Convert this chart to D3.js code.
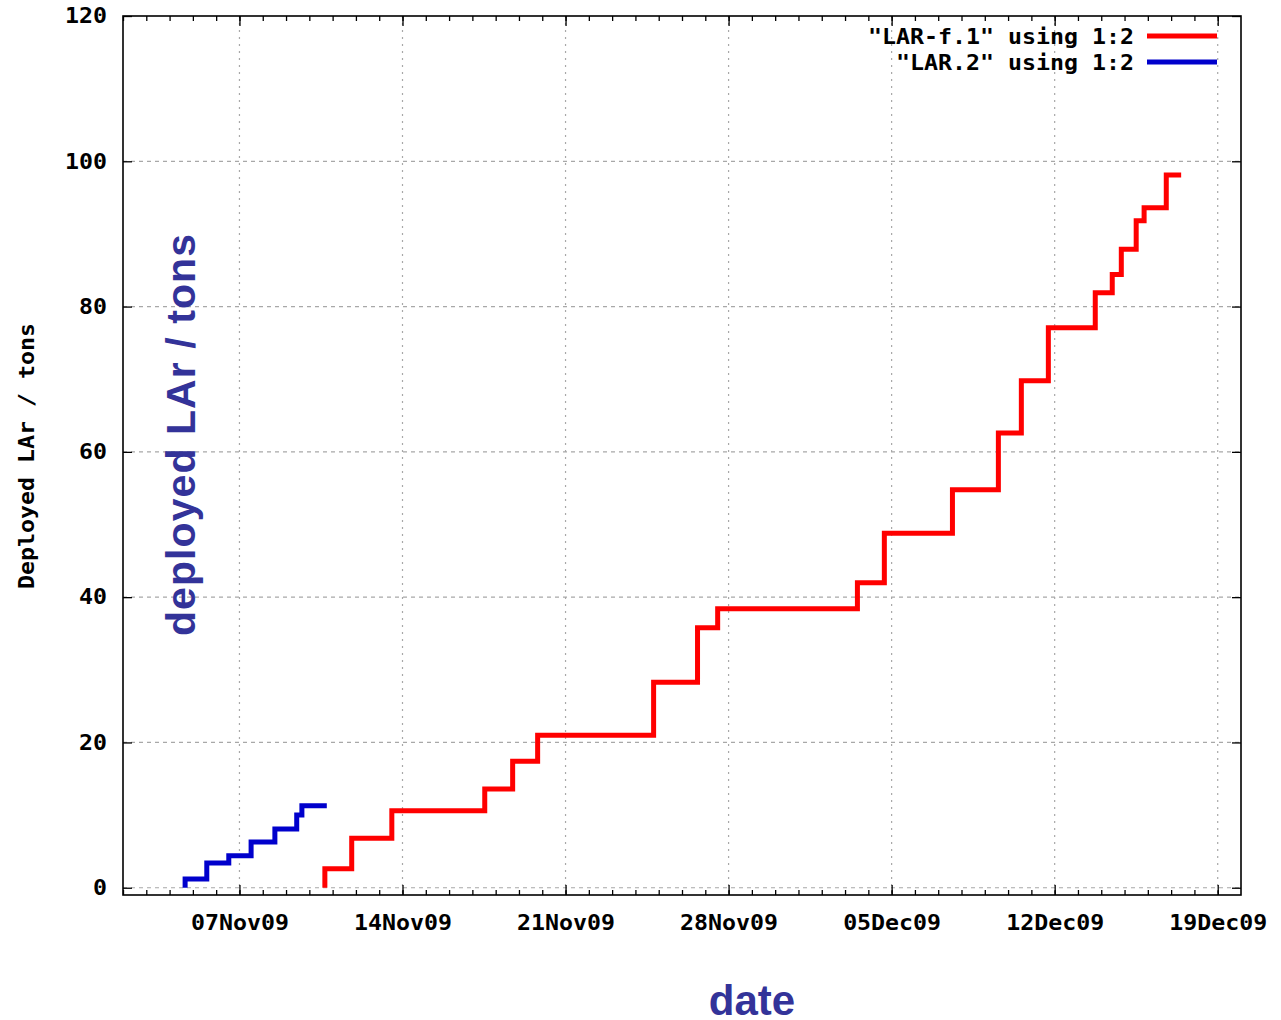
<!DOCTYPE html>
<html>
<head>
<meta charset="utf-8">
<script src="https://cdn.jsdelivr.net/npm/d3@7"></script>
<style>
  html, body { margin: 0; padding: 0; background: #fff; }
  svg { display: block; }
</style>
</head>
<body>
<svg id="chart" width="1281" height="1020"></svg>
<script>
// ---------- data ----------
const redDates = [
  "2009-11-10 16:00", "2009-11-10 16:00", "2009-11-11 19:40", "2009-11-13 13:00",
  "2009-11-17 12:45", "2009-11-18 17:30", "2009-11-19 19:15", "2009-11-24 18:45",
  "2009-11-26 16:00", "2009-11-27 12:45", "2009-12-03 12:45", "2009-12-04 16:30",
  "2009-12-07 14:40", "2009-12-09 14:00", "2009-12-10 13:40", "2009-12-11 17:30",
  "2009-12-13 17:50", "2009-12-14 11:20", "2009-12-14 20:40", "2009-12-15 12:00",
  "2009-12-15 20:10", "2009-12-16 19:00", "2009-12-17 10:20"
];
const redValues = [
  0, 2.6, 6.8, 10.6,
  13.6, 17.4, 21.0, 28.3,
  35.8, 38.4, 42.0, 48.8,
  54.8, 62.6, 69.8, 77.1,
  81.9, 84.4, 87.9, 91.8,
  93.6, 98.1, 98.1
];
const blueDates = [
  "2009-11-04 16:00", "2009-11-04 16:00", "2009-11-05 14:20", "2009-11-06 13:00",
  "2009-11-07 12:00", "2009-11-08 12:30", "2009-11-09 11:00", "2009-11-09 16:20",
  "2009-11-10 18:00"
];
const blueValues = [0, 1.2, 3.4, 4.4, 6.3, 8.1, 10.0, 11.3, 11.3];

const xTickLabels = ["07Nov09", "14Nov09", "21Nov09", "28Nov09", "05Dec09", "12Dec09", "19Dec09"];
const yTicks = [0, 20, 40, 60, 80, 100, 120];
const xDomain = ["2009-11-02 00:00", "2009-12-20 00:00"];
const yDomain = [-1, 120];
const seriesNames = ['"LAR-f.1" using 1:2', '"LAR.2" using 1:2'];
const seriesColors = ["#ff0000", "#0000cc"];

// ---------- layout ----------
const L = 123, R = 1241, T = 16, B = 895;
const monoFont = "'DejaVu Sans Mono', 'Liberation Mono', monospace";
const charW = 14;

const parseDT = d3.timeParse("%Y-%m-%d %H:%M");
const parseTick = d3.timeParse("%d%b%y");

const x = d3.scaleTime().domain(xDomain.map(parseDT)).range([L, R]);
const y = d3.scaleLinear().domain(yDomain).range([B, T]);

const svg = d3.select("#chart");

// grid
const majorDates = xTickLabels.map(parseTick);
const grid = svg.append("g");
grid.selectAll("line.h").data(yTicks.filter(v => v < 120)).enter().append("line")
  .attr("x1", L).attr("x2", R).attr("y1", d => y(d)).attr("y2", d => y(d))
  .attr("stroke", "#a8a8a8").attr("stroke-width", 1.2).attr("stroke-dasharray", "4,4");
grid.selectAll("line.v").data(majorDates).enter().append("line")
  .attr("x1", d => x(d)).attr("x2", d => x(d)).attr("y1", T).attr("y2", B)
  .attr("stroke", "#a8a8a8").attr("stroke-width", 1.2).attr("stroke-dasharray", "2,5");

// axes
function styleLabels(g) {
  g.select(".domain").remove();
  g.selectAll(".tick line").attr("stroke", "#000").attr("stroke-width", 1.3);
  g.selectAll(".tick text")
    .attr("fill", "#000")
    .style("font-family", monoFont)
    .style("font-weight", "bold")
    .style("font-size", "21px")
    .attr("lengthAdjust", "spacingAndGlyphs")
    .attr("textLength", function() { return this.textContent.length * charW; });
}
const minorDays = d3.timeDay.range(x.domain()[0], x.domain()[1]);

svg.append("g").attr("transform", `translate(0,${B})`)
  .call(d3.axisBottom(x).tickValues(minorDays).tickSize(-5).tickFormat(""))
  .call(styleLabels);
svg.append("g").attr("transform", `translate(0,${B})`)
  .call(d3.axisBottom(x).tickValues(majorDates).tickSize(-10).tickPadding(20)
    .tickFormat((d, i) => xTickLabels[i]))
  .call(styleLabels);
svg.append("g").attr("transform", `translate(0,${T})`)
  .call(d3.axisTop(x).tickValues(minorDays).tickSize(-5).tickFormat(""))
  .call(styleLabels);
svg.append("g").attr("transform", `translate(0,${T})`)
  .call(d3.axisTop(x).tickValues(majorDates).tickSize(-10).tickFormat(""))
  .call(styleLabels);
svg.append("g").attr("transform", `translate(${L},0)`)
  .call(d3.axisLeft(y).tickValues(yTicks).tickSize(-9).tickPadding(16).tickFormat(d3.format("d")))
  .call(styleLabels);
svg.append("g").attr("transform", `translate(${R},0)`)
  .call(d3.axisRight(y).tickValues(yTicks).tickSize(-9).tickFormat(""))
  .call(styleLabels);

// border
svg.append("rect").attr("x", L).attr("y", T).attr("width", R - L).attr("height", B - T)
  .attr("fill", "none").attr("stroke", "#000").attr("stroke-width", 1.6);

// series
const line = d3.line().x(d => x(d[0])).y(d => y(d[1])).curve(d3.curveStepAfter);
const redData = redDates.map((d, i) => [parseDT(d), redValues[i]]);
const blueData = blueDates.map((d, i) => [parseDT(d), blueValues[i]]);
[[redData, seriesColors[0]], [blueData, seriesColors[1]]].forEach(([data, col]) => {
  svg.append("path").datum(data).attr("d", line)
    .attr("fill", "none").attr("stroke", col).attr("stroke-width", 5)
    .attr("stroke-linejoin", "miter").attr("stroke-linecap", "butt");
});

// legend
const leg = svg.append("g");
seriesNames.forEach((name, i) => {
  const yy = 37 + i * 26;
  leg.append("text").attr("x", 1134).attr("y", yy + 7)
    .attr("text-anchor", "end")
    .style("font-family", monoFont).style("font-weight", "bold").style("font-size", "21px")
    .attr("lengthAdjust", "spacingAndGlyphs").attr("textLength", name.length * charW)
    .text(name);
  leg.append("line").attr("x1", 1147).attr("x2", 1217).attr("y1", yy - 1).attr("y2", yy - 1)
    .attr("stroke", seriesColors[i]).attr("stroke-width", 5);
});

// y axis label (gnuplot)
const yl = "Deployed LAr / tons";
svg.append("text")
  .attr("transform", "translate(34,456) rotate(-90)")
  .attr("text-anchor", "middle")
  .style("font-family", monoFont).style("font-weight", "bold").style("font-size", "21px")
  .attr("lengthAdjust", "spacingAndGlyphs").attr("textLength", yl.length * charW)
  .text(yl);

// overlay annotations
svg.append("text")
  .attr("transform", "translate(195,636) rotate(-90)")
  .attr("text-anchor", "start")
  .style("font-family", "'Liberation Sans', Arial, sans-serif").style("font-weight", "bold")
  .style("font-size", "41px").attr("fill", "#333399")
  .attr("textLength", 402).attr("lengthAdjust", "spacing")
  .text("deployed LAr  / tons");

svg.append("text")
  .attr("x", 752).attr("y", 1015).attr("text-anchor", "middle")
  .style("font-family", "'Liberation Sans', Arial, sans-serif").style("font-weight", "bold")
  .style("font-size", "42px").attr("fill", "#333399")
  .text("date");
</script>
</body>
</html>
